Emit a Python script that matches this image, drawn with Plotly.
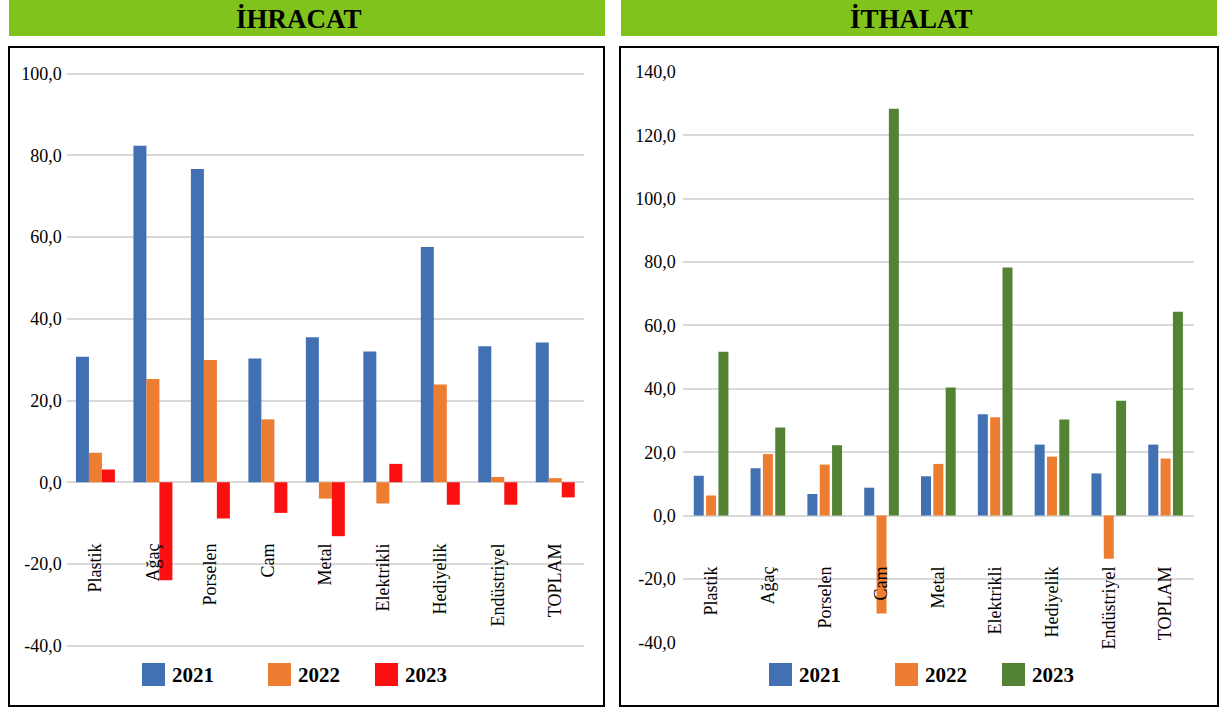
import plotly.graph_objects as go

# ---------------- data ----------------
categories = ["Plastik", "Ağaç", "Porselen", "Cam", "Metal", "Elektrikli",
              "Hediyelik", "Endüstriyel", "TOPLAM"]
years = ["2021", "2022", "2023"]

ihracat_2021 = [30.7, 82.4, 76.7, 30.3, 35.5, 32.0, 57.6, 33.3, 34.2]
ihracat_2022 = [7.2, 25.3, 29.9, 15.4, -4.0, -5.2, 23.9, 1.3, 1.0]
ihracat_2023 = [3.1, -24.0, -8.9, -7.5, -13.2, 4.5, -5.5, -5.5, -3.7]

ithalat_2021 = [12.6, 14.9, 6.8, 8.8, 12.4, 32.0, 22.4, 13.3, 22.4]
ithalat_2022 = [6.3, 19.4, 16.1, -30.9, 16.3, 31.0, 18.6, -13.6, 18.0]
ithalat_2023 = [51.7, 27.8, 22.2, 128.4, 40.4, 78.3, 30.3, 36.2, 64.3]

left_ticks = [-40, -20, 0, 20, 40, 60, 80, 100]
left_ticktext = ["-40,0", "-20,0", "0,0", "20,0", "40,0", "60,0", "80,0", "100,0"]
right_ticks = [-40, -20, 0, 20, 40, 60, 80, 100, 120, 140]
right_ticktext = ["-40,0", "-20,0", "0,0", "20,0", "40,0", "60,0", "80,0",
                  "100,0", "120,0", "140,0"]

# ---------------- style ----------------
W, H = 1224, 711
BLUE, ORANGE, RED, GREEN = "#4170B3", "#ED7D31", "#FA1010", "#548235"
HEAD = "#80C31C"
GRID = "#D9D9D9"
FONT = "Liberation Serif, Times New Roman, serif"


def X(px):
    return px / W


def Y(py):
    return 1 - py / H


fig = go.Figure()

lw = 0.226
for vals, col, k in [(ihracat_2021, BLUE, -1), (ihracat_2022, ORANGE, 0), (ihracat_2023, RED, 1)]:
    fig.add_trace(go.Bar(x=categories, y=vals, xaxis="x", yaxis="y",
                         marker=dict(color=col, line=dict(width=0)),
                         width=lw, offset=k * lw - lw / 2, showlegend=False))

rw = 0.176
slot = 0.217
for vals, col, k in [(ithalat_2021, BLUE, -1), (ithalat_2022, ORANGE, 0), (ithalat_2023, GREEN, 1)]:
    fig.add_trace(go.Bar(x=categories, y=vals, xaxis="x2", yaxis="y2",
                         marker=dict(color=col, line=dict(width=0)),
                         width=rw, offset=k * slot - rw / 2, showlegend=False))

tickfont = dict(family=FONT, size=18, color="#000000")

fig.update_layout(
    width=W, height=H, margin=dict(l=0, r=0, t=0, b=0, pad=0, autoexpand=False),
    paper_bgcolor="white", plot_bgcolor="white", barmode="overlay",
    showlegend=False,
    xaxis=dict(domain=[X(66.7), X(584)], anchor="free", position=Y(539),
               type="category", showgrid=False, showline=False, ticks="",
               tickangle=-90, tickfont=tickfont, zeroline=False, automargin=False),
    yaxis=dict(domain=[Y(645.7 + 1.2), Y(73.7 - 1.2)], anchor="x", range=[-40.3, 100.3],
               tickvals=left_ticks, ticktext=left_ticktext, tickfont=tickfont,
               showgrid=True, gridcolor=GRID, gridwidth=1.5,
               zeroline=True, zerolinecolor=GRID, zerolinewidth=1.5,
               showline=False, ticks="", ticklabelstandoff=4, automargin=False),
    xaxis2=dict(domain=[X(682.7), X(1194)], anchor="free", position=Y(562),
                type="category", showgrid=False, showline=False, ticks="",
                tickangle=-90, tickfont=tickfont, zeroline=False, automargin=False),
    yaxis2=dict(domain=[Y(642.3 + 0.95), Y(72 - 0.95)], anchor="x2", range=[-40.3, 140.3],
                tickvals=right_ticks, ticktext=right_ticktext, tickfont=tickfont,
                showgrid=True, gridcolor=GRID, gridwidth=1.5,
                zeroline=True, zerolinecolor=GRID, zerolinewidth=1.5,
                showline=False, ticks="", ticklabelstandoff=6, automargin=False),
)

shapes = []
annotations = []

for x0, x1, title, cx in [(9, 605, "İHRACAT", 299), (621, 1217, "İTHALAT", 911)]:
    shapes.append(dict(type="rect", xref="paper", yref="paper",
                       x0=X(x0), x1=X(x1), y0=Y(36), y1=Y(0),
                       fillcolor=HEAD, line=dict(width=0), layer="below"))
    annotations.append(dict(xref="paper", yref="paper", x=X(cx), y=Y(18.5),
                            text="<b>%s</b>" % title, showarrow=False,
                            xanchor="center", yanchor="middle",
                            font=dict(family=FONT, size=27, color="#000000")))

for x0, x1 in [(9, 604), (620, 1218)]:
    shapes.append(dict(type="rect", xref="paper", yref="paper",
                       x0=X(x0), x1=X(x1), y0=Y(706), y1=Y(47),
                       line=dict(color="#000000", width=2), fillcolor="rgba(0,0,0,0)"))

for base, cols in [(142, [BLUE, ORANGE, RED]), (769, [BLUE, ORANGE, GREEN])]:
    for off, col, yr in zip([0, 126, 233], cols, years):
        sx = base + off
        shapes.append(dict(type="rect", xref="paper", yref="paper",
                           x0=X(sx), x1=X(sx + 23), y0=Y(686), y1=Y(663),
                           fillcolor=col, line=dict(width=0)))
        annotations.append(dict(xref="paper", yref="paper", x=X(sx + 28), y=Y(675),
                                text="<b>%s</b>" % yr, showarrow=False,
                                xanchor="left", yanchor="middle",
                                font=dict(family=FONT, size=21, color="#000000")))

fig.update_layout(shapes=shapes, annotations=annotations)

post = "document.documentElement.style.margin='0';document.body.style.margin='0';"

fig.write_html("out.html", post_script=post, config={"displayModeBar": False})
